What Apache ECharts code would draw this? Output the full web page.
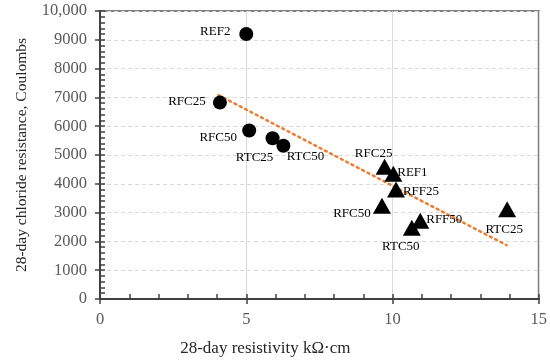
<!DOCTYPE html>
<html><head><meta charset="utf-8">
<script src="https://cdn.jsdelivr.net/npm/echarts@6/dist/echarts.min.js"></script>
<style>html,body{margin:0;padding:0;background:#fff}#c{width:550px;height:363px}</style>
</head><body><div id="c"></div>
<script>
// ---- data ----
const circleNames = ['REF2', 'RFC25', 'RFC50', 'RTC25', 'RTC50'];
const circleX = [5.0, 4.1, 5.1, 5.9, 6.27];
const circleY = [9200, 6820, 5850, 5580, 5320];
const triNames = ['RFC25', 'REF1', 'RFF25', 'RFC50', 'RFF50', 'RTC50', 'RTC25'];
const triX = [9.73, 10.03, 10.12, 9.64, 10.95, 10.66, 13.92];
const triY = [4590, 4350, 3800, 3240, 2720, 2470, 3120];
const trendX = [4.05, 13.9];
const trendY = [7080, 1870];
const xTicks = [0, 5, 10, 15];
const yTicks = ['0','1000','2000','3000','4000','5000','6000','7000','8000','9000','10,000'];

// ---- label placement (style) ----
const circleLabelOffsets = [[-31, -2], [-33, -1], [-31, 7], [-18, 19], [22, 11]];
const triLabelOffsets = [[-11, -13], [19, -1], [25, 2], [-30, 8], [24, -1], [-11, 19], [-3, 20]];

const FONT = '"Liberation Serif", "Times New Roman", serif';
const labelStyle = {fontFamily: FONT, fontSize: 13, color: '#000'};

function pts(xs, ys, names, offs) {
  return xs.map((x, i) => ({
    value: [x, ys[i]], name: names[i],
    label: {show: true, position: 'inside', align: 'center', verticalAlign: 'middle',
      offset: offs[i], formatter: names[i], ...labelStyle}
  }));
}

const chart = echarts.init(document.getElementById('c'), null, {renderer: 'canvas'});
const axisColor = '#404040';
const xCommon = {type: 'value', min: 0, max: 15, interval: 5};
const yCommon = {type: 'value', min: 0, max: 10000, interval: 1000};
chart.setOption({
  animation: false,
  backgroundColor: '#fff',
  grid: {left: 100, right: 10, top: 11, bottom: 64, show: true, borderColor: '#7f7f7f', borderWidth: 2},
  xAxis: [
    {...xCommon, position: 'bottom',
      name: '28-day resistivity kΩ·cm', nameLocation: 'middle', nameGap: 41,
      nameTextStyle: {fontFamily: FONT, fontSize: 17, color: '#262626', padding: [0, 108, 0, 0]},
      axisLine: {show: true, lineStyle: {color: axisColor, width: 2}},
      axisTick: {show: true, inside: true, length: 5, lineStyle: {color: axisColor, width: 1.5}},
      minorTick: {show: true, splitNumber: 5, length: 5, lineStyle: {color: axisColor, width: 1.5}},
      axisLabel: {fontFamily: FONT, fontSize: 16.5, color: '#595959', margin: 12,
        formatter: v => xTicks.includes(v) ? String(v) : ''},
      splitLine: {show: true, lineStyle: {color: '#d9d9d9', width: 1}}},
    {...xCommon, position: 'bottom', gridIndex: 0,
      axisLine: {show: false}, axisLabel: {show: false}, splitLine: {show: false},
      axisTick: {show: true, inside: false, length: 5, lineStyle: {color: axisColor, width: 1.5}}}
  ],
  yAxis: [
    {...yCommon, position: 'left',
      name: '28-day chloride resistance, Coulombs', nameLocation: 'middle', nameGap: 70,
      nameTextStyle: {fontFamily: FONT, fontSize: 15.5, color: '#262626'},
      axisLine: {show: true, lineStyle: {color: axisColor, width: 2}},
      axisTick: {show: true, inside: true, length: 5, lineStyle: {color: axisColor, width: 1.5}},
      minorTick: {show: true, splitNumber: 5, length: 5, lineStyle: {color: axisColor, width: 1.5}},
      axisLabel: {fontFamily: FONT, fontSize: 16.5, color: '#595959', margin: 13,
        formatter: v => yTicks[Math.round(v / 1000)]},
      splitLine: {show: true, lineStyle: {color: '#d9d9d9', type: [4, 3], width: 1}}},
    {...yCommon, position: 'left', gridIndex: 0,
      axisLine: {show: false}, axisLabel: {show: false}, splitLine: {show: false},
      axisTick: {show: true, inside: false, length: 5, lineStyle: {color: axisColor, width: 1.5}}}
  ],
  series: [
    {type: 'line', data: trendX.map((x, i) => [x, trendY[i]]), symbol: 'none', silent: true,
      lineStyle: {color: '#ED7D31', width: 2.5, type: [2, 4], cap: 'round'}, z: 1},
    {type: 'scatter', symbol: 'circle', symbolSize: 14, itemStyle: {color: '#000', opacity: 1},
      data: pts(circleX, circleY, circleNames, circleLabelOffsets), z: 3},
    {type: 'scatter', symbol: 'triangle', symbolSize: [18, 16], itemStyle: {color: '#000', opacity: 1},
      data: pts(triX, triY, triNames, triLabelOffsets), z: 3}
  ]
});
</script></body></html>
